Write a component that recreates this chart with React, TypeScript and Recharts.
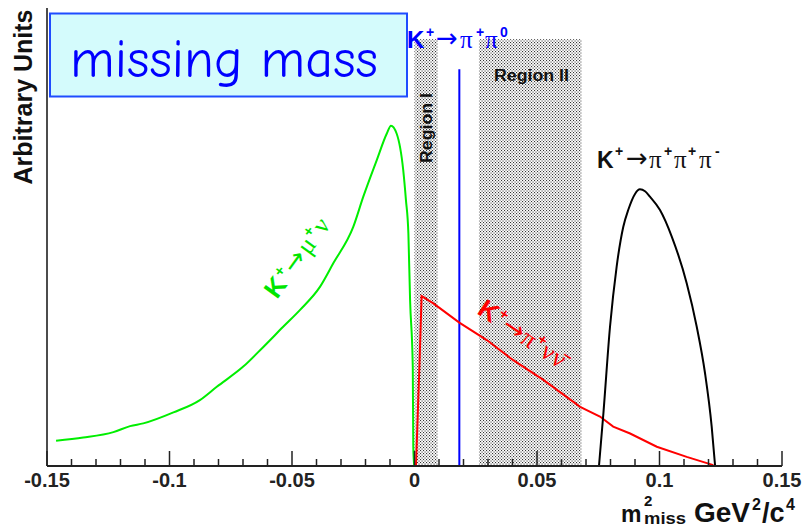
import { LineChart, Line, XAxis, YAxis, ReferenceArea } from "recharts";

// m^2_miss (GeV^2/c^4) vs arbitrary units
const kMuNu = [
  [-0.1463, 5.5], [-0.1352, 6.2], [-0.1229, 7.4], [-0.1161, 8.7], [-0.1107, 9.3],
  [-0.0984, 11.7], [-0.0876, 14.4], [-0.0807, 17.3], [-0.0699, 21.7], [-0.0617, 26.0],
  [-0.0536, 30.4], [-0.0467, 34.1], [-0.0386, 39.1], [-0.0331, 44.3], [-0.025, 52.2],
  [-0.0209, 58.8], [-0.0154, 66.8], [-0.0113, 72.6], [-0.0096, 74.3], [-0.0073, 72.6],
  [-0.0046, 64.6], [-0.0035, 58.1], [-0.0025, 50.8], [-0.0018, 36.2], [-0.0007, 21.7],
  [-0.0005, 4.2], [-0.0001, 0],
];

const kPiNuNu = [
  [0.0006, 0], [0.002, 21.7], [0.0029, 37.1], [0.0077, 35.5], [0.0183, 31.3],
  [0.0295, 27.5], [0.0403, 23.1], [0.0526, 18.8], [0.0676, 12.9], [0.0757, 10.8],
  [0.0811, 8.6], [0.088, 7.1], [0.0989, 4.2], [0.1111, 2.0], [0.122, 0.2],
];

const kPiPiPi = [
  [0.0753, 0], [0.0771, 11.5], [0.0798, 30.4], [0.0825, 43.5], [0.0852, 52.2],
  [0.0873, 56.0], [0.09, 59.4], [0.092, 60.4], [0.0941, 60.0], [0.0961, 58.8],
  [0.1002, 55.9], [0.105, 50.1], [0.1111, 39.9], [0.1152, 30.4], [0.1186, 20.2],
  [0.1213, 8.6], [0.1227, 0],
];

const kPiPi0 = [[0.0183, 0], [0.0183, 86.6]];

const regionOne = [0, 0.0095];
const regionTwo = [0.0263, 0.0682];
const regionTop = 93.2;

const majorTicks = [-0.15, -0.1, -0.05, 0, 0.05, 0.1, 0.15];
const tickLabels = ["-0.15", "-0.1", "-0.05", "0", "0.05", "0.1", "0.15"];
const minorTicks = [
  -0.14, -0.13, -0.12, -0.11, -0.09, -0.08, -0.07, -0.06, -0.04, -0.03, -0.02, -0.01,
  0.01, 0.02, 0.03, 0.04, 0.06, 0.07, 0.08, 0.09, 0.11, 0.12, 0.13, 0.14,
];

const sans = '"Liberation Sans", Arial, Helvetica, sans-serif';
const serif = '"Liberation Serif", "DejaVu Serif", serif';
const arrowFont = '"DejaVu Sans", sans-serif';

const toPoints = (pairs: number[][]) => pairs.map(([x, y]) => ({ x, y }));

const AxisTick = ({ x, y, payload }: any) => {
  const i = majorTicks.findIndex((m) => Math.abs(m - payload.value) < 1e-9);
  const major = i >= 0;
  return (
    <g>
      <line x1={x} x2={x} y1={y} y2={y - (major ? 15 : 7)} stroke="#222" strokeWidth={1.5} />
      {major && (
        <text x={x} y={y + 21} textAnchor="middle" fontSize={20} fontWeight={700} fill="#222" fontFamily={sans}>
          {tickLabels[i]}
        </text>
      )}
    </g>
  );
};

export default function App() {
  const ticks = [...majorTicks, ...minorTicks].sort((a, b) => a - b);

  return (
    <div style={{ position: "absolute", left: 0, top: 0, width: 803, height: 528, background: "#fff" }}>
      <LineChart width={803} height={528} margin={{ top: 8, right: 21, bottom: 32, left: 46 }}>
        <defs>
          <pattern id="dots" width="3" height="3" patternUnits="userSpaceOnUse">
            <rect x="0" y="0" width="1.1" height="1.1" fill="#333" />
            <rect x="1.5" y="1.5" width="1.1" height="1.1" fill="#333" />
          </pattern>
        </defs>
        <XAxis
          dataKey="x"
          type="number"
          domain={[-0.15, 0.15]}
          ticks={ticks}
          interval={0}
          tick={<AxisTick />}
          tickLine={false}
          tickSize={0}
          tickMargin={0}
          height={30}
          axisLine={{ stroke: "#222", strokeWidth: 2 }}
          allowDataOverflow
        />
        <YAxis
          type="number"
          domain={[0, 100]}
          tick={false}
          tickLine={false}
          width={1}
          axisLine={{ stroke: "#111", strokeWidth: 1.5 }}
        />
        <ReferenceArea x1={regionOne[0]} x2={regionOne[1]} y1={0} y2={regionTop} fill="url(#dots)" fillOpacity={1} stroke="none" />
        <ReferenceArea x1={regionTwo[0]} x2={regionTwo[1]} y1={0} y2={regionTop} fill="url(#dots)" fillOpacity={1} stroke="none" />
        <Line data={toPoints(kPiPi0)} dataKey="y" type="linear" stroke="#0000ff" strokeWidth={2} dot={false} isAnimationActive={false} />
        <Line data={toPoints(kMuNu)} dataKey="y" type="monotone" stroke="#00ee00" strokeWidth={2} dot={false} isAnimationActive={false} />
        <Line data={toPoints(kPiNuNu)} dataKey="y" type="linear" stroke="#ff0000" strokeWidth={2} dot={false} isAnimationActive={false} />
        <Line data={toPoints(kPiPiPi)} dataKey="y" type="monotone" stroke="#000" strokeWidth={2} dot={false} isAnimationActive={false} />
      </LineChart>

      <svg width={803} height={528} style={{ position: "absolute", left: 0, top: 0, pointerEvents: "none" }}>
        <rect x={50} y={13.5} width={357} height={83} fill="#d4fbfc" stroke="#1f4cff" strokeWidth={2} />
        <text x={70} y={77} fontSize={54} fill="#0000ff" fontFamily={'"Comic Sans MS", "Comic Neue", "DejaVu Sans", sans-serif'}>
          missing mass
        </text>

        <text transform="translate(32,97) rotate(-90)" textAnchor="middle" fontSize={25} fontWeight={700} fill="#111" fontFamily={sans}>
          Arbitrary Units
        </text>

        <text y={48} fill="#0000ff" fontSize={25}>
          <tspan x={407} fontSize={24} fontWeight={700} fontFamily={sans}>K</tspan>
          <tspan x={426} y={37} fontSize={14} fontWeight={700} fontFamily={sans}>+</tspan>
          <tspan x={436} y={47} fontSize={26} fontFamily={arrowFont}>→</tspan>
          <tspan x={460} y={48} fontFamily={serif}>π</tspan>
          <tspan x={476} y={37} fontSize={14} fontWeight={700} fontFamily={sans}>+</tspan>
          <tspan x={485} y={48} fontFamily={serif}>π</tspan>
          <tspan x={500} y={37} fontSize={14} fontWeight={700} fontFamily={sans}>0</tspan>
        </text>

        <text y={168} fill="#111" fontSize={25}>
          <tspan x={597} fontSize={23} fontWeight={700} fontFamily={sans}>K</tspan>
          <tspan x={615} y={156} fontSize={14} fontWeight={700} fontFamily={sans}>+</tspan>
          <tspan x={626} y={167} fontSize={26} fontFamily={arrowFont}>→</tspan>
          <tspan x={649} y={168} fontFamily={serif}>π</tspan>
          <tspan x={664} y={156} fontSize={14} fontWeight={700} fontFamily={sans}>+</tspan>
          <tspan x={674} y={168} fontFamily={serif}>π</tspan>
          <tspan x={688} y={156} fontSize={14} fontWeight={700} fontFamily={sans}>+</tspan>
          <tspan x={699} y={168} fontFamily={serif}>π</tspan>
          <tspan x={715} y={156} fontSize={14} fontWeight={700} fontFamily={sans}>-</tspan>
        </text>

        <text x={494} y={81} fontSize={16} fontWeight={700} fill="#111" fontFamily={sans} textLength={75} lengthAdjust="spacingAndGlyphs">
          Region II
        </text>
        <text transform="translate(432,128) rotate(-90)" textAnchor="middle" fontSize={16} fontWeight={700} fill="#111" fontFamily={sans} textLength={70} lengthAdjust="spacingAndGlyphs">
          Region I
        </text>

        <text transform="translate(277,300) rotate(-54)" fill="#00e600" fontSize={26} textLength={92} lengthAdjust="spacing">
          <tspan fontWeight={700} fontFamily={sans}>K</tspan>
          <tspan fontSize={15} dy={-10} fontWeight={700} fontFamily={sans}>+</tspan>
          <tspan dy={10} fontFamily={arrowFont}>→</tspan>
          <tspan fontFamily={serif}>μ</tspan>
          <tspan fontSize={15} dy={-10} fontWeight={700} fontFamily={sans}>+</tspan>
          <tspan dy={10} fontFamily={serif}>ν</tspan>
        </text>

        <text transform="translate(476,313) rotate(34)" fill="#ff0000" fontSize={26} textLength={100} lengthAdjust="spacing">
          <tspan fontWeight={700} fontFamily={sans}>K</tspan>
          <tspan fontSize={15} dy={-10} fontWeight={700} fontFamily={sans}>+</tspan>
          <tspan dy={10} fontFamily={arrowFont}>→</tspan>
          <tspan fontFamily={serif}>π</tspan>
          <tspan fontSize={15} dy={-10} fontWeight={700} fontFamily={sans}>+</tspan>
          <tspan dy={10} fontFamily={serif}>νν̄</tspan>
        </text>

        <g fill="#111" fontWeight={700} fontFamily={sans}>
          <text x={621} y={522} fontSize={23}>m</text>
          <text x={644} y={506} fontSize={15}>2</text>
          <text x={644} y={524} fontSize={16} textLength={42} lengthAdjust="spacingAndGlyphs">miss</text>
          <text x={694} y={522} fontSize={28}>GeV</text>
          <text x={752} y={510} fontSize={16}>2</text>
          <text x={762} y={522} fontSize={27}>/c</text>
          <text x={786} y={510} fontSize={16}>4</text>
        </g>
      </svg>
    </div>
  );
}
